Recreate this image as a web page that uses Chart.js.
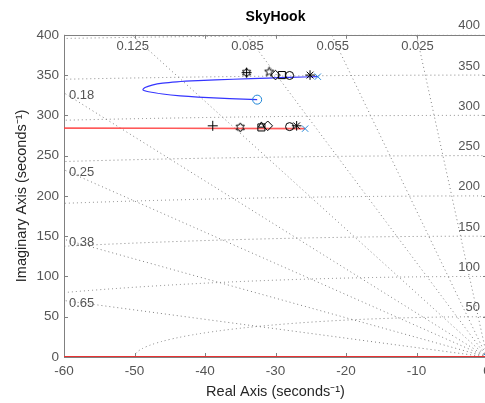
<!DOCTYPE html>
<html>
<head>
<meta charset="utf-8">
<title>SkyHook</title>
<script src="https://cdn.jsdelivr.net/npm/chart.js@4.4.0/dist/chart.umd.min.js"></script>
<style>
    html, body { margin: 0; padding: 0; background: #fff; overflow: hidden; }
    #wrap { width: 500px; height: 403px; }
</style>
</head>
<body>
<div id="wrap"><canvas id="chart" width="500" height="403"></canvas></div>
<script>
// SkyHook root locus
const xTickValues = [-60, -50, -40, -30, -20, -10, 0];
const yTickValues = [0, 50, 100, 150, 200, 250, 300, 350, 400];

// sgrid: damping rays and natural frequency circles
const dampingValues = [0.025, 0.055, 0.085, 0.125, 0.18, 0.25, 0.38, 0.65];
const dampingLabels = ['0.025', '0.055', '0.085', '0.125', '0.18', '0.25', '0.38', '0.65'];
const freqValues = [50, 100, 150, 200, 250, 300, 350, 400];

// blue branch: pole near -24+348j looping back to the zero
const blueX = [-24.0, -28, -31, -36, -41, -44, -46, -47.5, -48.5, -48.8, -48, -46, -43.5, -41, -36.5, -32.6];
const blueY = [348, 347.2, 346.3, 344.8, 343, 341.6, 340, 337.6, 334.6, 331.7, 329.3, 326.5, 324.2, 322.7, 320.8, 319.5];

// red branches
const redX = [-75, -60, -45, -25.8];
const redY = [284.2, 284.1, 284, 283.5];
const realAxisX = [-75, 0];
const realAxisY = [0, 0];

// open-loop poles (x) and zeros (o)
const poleX = [-24.0, -25.8, 0];
const poleY = [348, 283.5, 0];
const zeroX = [-32.6];
const zeroY = [319.5];

// closed-loop pole markers
const plusX = [-38.9, -34.1];
const plusY = [287, 353];
const hexX = [-34.1, -35.0];
const hexY = [353, 285];
const pentX = [-30.9];
const pentY = [354];
const diamondX = [-30.0, -31.1];
const diamondY = [350, 287];
const squareX = [-29.1, -32.0];
const squareY = [350, 285];
const triX = [-32.0];
const triY = [287.5];
const circleX = [-28.0, -28.0];
const circleY = [349.5, 286];
const starX = [-25.1, -27.0];
const starY = [350, 287];

const toPoints = (xs, ys) => xs.map((v, i) => ({ x: v, y: ys[i] }));

function makeStar(n, outer, inner) {
    const c = document.createElement('canvas');
    const s = Math.ceil(outer * 2 + 3);
    c.width = s;
    c.height = s;
    const g = c.getContext('2d');
    g.strokeStyle = '#000';
    g.lineWidth = 1;
    g.beginPath();
    for (let i = 0; i < n * 2; i++) {
        const r = i % 2 === 0 ? outer : inner;
        const a = -Math.PI / 2 + i * Math.PI / n;
        const px = s / 2 + r * Math.cos(a);
        const py = s / 2 + r * Math.sin(a);
        if (i === 0) g.moveTo(px, py); else g.lineTo(px, py);
    }
    g.closePath();
    g.stroke();
    return c;
}

const hexagram = makeStar(6, 4.6, 2.7);
const pentagram = makeStar(5, 4.8, 2.0);

function markerSet(xs, ys, style, radius, color) {
    return {
        type: 'scatter',
        data: toPoints(xs, ys),
        pointStyle: style,
        pointRadius: radius,
        pointBorderColor: color || '#000',
        pointBackgroundColor: 'rgba(0,0,0,0)',
        pointBorderWidth: 1,
        showLine: false
    };
}

const fontFamily = '"Liberation Sans", Arial, Helvetica, sans-serif';

const sgridPlugin = {
    id: 'sgrid',
    beforeDatasetsDraw(chart) {
        const { ctx, chartArea: a, scales: { x, y } } = chart;
        const ox = x.getPixelForValue(0);
        const oy = y.getPixelForValue(0);
        const kx = x.getPixelForValue(1) - ox;
        const ky = oy - y.getPixelForValue(1);

        ctx.save();
        ctx.beginPath();
        ctx.rect(a.left, a.top, a.right - a.left, a.bottom - a.top);
        ctx.clip();
        ctx.strokeStyle = '#808080';
        ctx.lineWidth = 1;
        ctx.setLineDash([1, 3]);
        freqValues.forEach(wn => {
            ctx.beginPath();
            ctx.ellipse(ox, oy, wn * kx, wn * ky, 0, Math.PI, 1.5 * Math.PI);
            ctx.stroke();
        });
        dampingValues.forEach(z => {
            const r = 2000;
            ctx.beginPath();
            ctx.moveTo(ox, oy);
            ctx.lineTo(x.getPixelForValue(-r * z), y.getPixelForValue(r * Math.sqrt(1 - z * z)));
            ctx.stroke();
        });
        ctx.restore();

        // grid labels
        ctx.save();
        ctx.font = '13px ' + fontFamily;
        ctx.fillStyle = '#555555';
        ctx.textBaseline = 'middle';
        dampingValues.forEach((z, i) => {
            const slope = Math.sqrt(1 - z * z) / z;
            const xTop = -y.max / slope;
            if (xTop > x.min) {
                ctx.textAlign = 'center';
                ctx.fillText(dampingLabels[i], x.getPixelForValue(xTop) + 1, a.top + 12);
            } else {
                ctx.textAlign = 'left';
                ctx.fillText(dampingLabels[i], a.left + 5, y.getPixelForValue(-x.min * slope) + 3);
            }
        });
        ctx.textAlign = 'right';
        freqValues.forEach(wn => {
            ctx.fillText(String(wn), a.right - 7, y.getPixelForValue(wn) - 9);
        });

        // axes box with inward ticks
        ctx.strokeStyle = '#808080';
        ctx.lineWidth = 1;
        ctx.beginPath();
        ctx.rect(Math.round(a.left) + 0.5, Math.round(a.top) + 0.5,
            Math.round(a.right - a.left), Math.round(a.bottom - a.top));
        x.ticks.forEach(t => {
            const px = Math.round(x.getPixelForValue(t.value)) + 0.5;
            ctx.moveTo(px, a.bottom);
            ctx.lineTo(px, a.bottom - 4);
            ctx.moveTo(px, a.top);
            ctx.lineTo(px, a.top + 4);
        });
        y.ticks.forEach(t => {
            const py = Math.round(y.getPixelForValue(t.value)) + 0.5;
            ctx.moveTo(a.left, py);
            ctx.lineTo(a.left + 4, py);
            ctx.moveTo(a.right, py);
            ctx.lineTo(a.right - 4, py);
        });
        ctx.stroke();
        ctx.restore();
    }
};

new Chart(document.getElementById('chart'), {
    type: 'scatter',
    data: {
        datasets: [
            markerSet(poleX, poleY, 'crossRot', 4.5, '#2b8ad8'),
            markerSet(zeroX, zeroY, 'circle', 4.5, '#1f86d6'),
            markerSet(plusX, plusY, 'cross', 5),
            markerSet(hexX, hexY, hexagram, 4.5),
            markerSet(pentX, pentY, pentagram, 4.5),
            markerSet(diamondX, diamondY, 'rectRot', 4.8),
            markerSet(squareX, squareY, 'rect', 5),
            markerSet(triX, triY, 'triangle', 3.5),
            markerSet(circleX, circleY, 'circle', 4),
            markerSet(starX, starY, 'star', 4.8),
            {
                data: toPoints(blueX, blueY),
                showLine: true,
                borderColor: '#3535ff',
                borderWidth: 1.2,
                pointRadius: 0,
                tension: 0.3
            },
            {
                data: toPoints(redX, redY),
                showLine: true,
                borderColor: 'rgba(255, 60, 60, 0.85)',
                borderWidth: 1.6,
                pointRadius: 0
            },
            {
                data: toPoints(realAxisX, realAxisY),
                showLine: true,
                borderColor: '#e83232',
                borderWidth: 1.8,
                pointRadius: 0
            }
        ]
    },
    options: {
        responsive: false,
        animation: false,
        devicePixelRatio: 1,
        layout: { padding: { left: 0, right: 13, top: 0, bottom: 0 } },
        plugins: {
            legend: { display: false },
            tooltip: { enabled: false },
            title: {
                display: true,
                text: 'SkyHook',
                fullSize: false,
                color: '#000',
                font: { family: fontFamily, size: 14, weight: 'bold' },
                padding: { top: 9, bottom: 9 }
            }
        },
        scales: {
            x: {
                type: 'linear',
                min: -60,
                max: 0,
                afterBuildTicks: scale => { scale.ticks = xTickValues.map(v => ({ value: v })); },
                afterFit: scale => { scale.height = 46; },
                grid: { display: false, drawTicks: false },
                border: { display: false },
                ticks: {
                    padding: 6,
                    color: '#555555',
                    font: { family: fontFamily, size: 13.5 }
                },
                title: {
                    display: true,
                    text: 'Real Axis (seconds⁻¹)',
                    color: '#262626',
                    font: { family: fontFamily, size: 14.5 },
                    padding: { top: 0, bottom: 2 }
                }
            },
            y: {
                type: 'linear',
                min: 0,
                max: 400,
                afterBuildTicks: scale => { scale.ticks = yTickValues.map(v => ({ value: v })); },
                afterFit: scale => { scale.width = 64; },
                grid: { display: false, drawTicks: false },
                border: { display: false },
                ticks: {
                    padding: 5,
                    color: '#555555',
                    font: { family: fontFamily, size: 13.5 }
                },
                title: {
                    display: true,
                    text: 'Imaginary Axis (seconds⁻¹)',
                    color: '#262626',
                    font: { family: fontFamily, size: 14.5 },
                    padding: { top: 13, bottom: 0 }
                }
            }
        }
    },
    plugins: [sgridPlugin]
});
</script>
</body>
</html>
